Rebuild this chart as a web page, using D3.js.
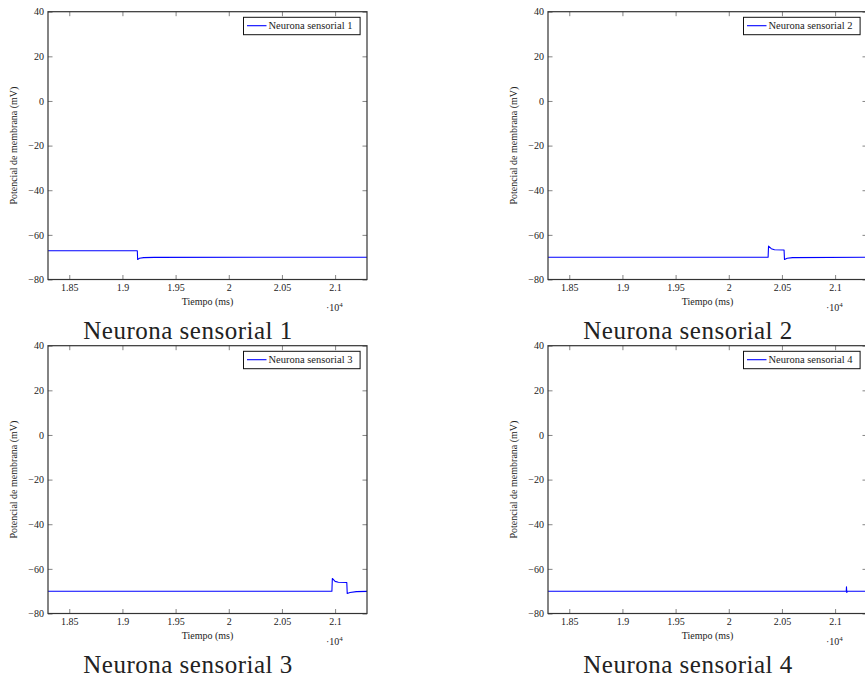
<!DOCTYPE html>
<html>
<head>
<meta charset="utf-8">
<script src="https://cdn.jsdelivr.net/npm/d3@7"></script>
<style>
  html, body { margin: 0; padding: 0; background: #fff; }
  svg { display: block; }
  text { font-family: "Liberation Serif", "Times New Roman", serif; fill: #222; }
</style>
</head>
<body>
<svg id="chart" width="865" height="679"></svg>
<script>
// Time window (ms) and tick values
const timeDomain = [18300, 21300];
const timeTicks = [18500, 19000, 19500, 20000, 20500, 21000];
const voltDomain = [-80, 40];
const voltTicks = [-80, -60, -40, -20, 0, 20, 40];

// Membrane potential traces, [time (ms), potential (mV)]
const sensorial1 = [
  [18300, -67.1], [19140, -67.1], [19143, -71.0], [19160, -70.5],
  [19200, -70.2], [19300, -70.1], [21300, -70.0]
];
const sensorial2 = [
  [18300, -70.0], [20370, -70.0], [20374, -65.0], [20400, -66.2],
  [20430, -66.7], [20520, -66.8], [20524, -71.0], [20550, -70.5],
  [20600, -70.2], [21300, -70.0]
];
const sensorial3 = [
  [18300, -70.0], [20970, -70.0], [20974, -64.3], [21000, -65.6],
  [21030, -66.0], [21110, -66.1], [21114, -71.0], [21140, -70.6],
  [21200, -70.2], [21300, -70.1]
];
const sensorial4 = [
  [18300, -70.0], [21105, -70.0], [21107, -68.0], [21110, -70.6],
  [21114, -70.0], [21300, -70.0]
];

const panels = [
  { name: "Neurona sensorial 1", data: sensorial1, ox: 0,   oy: 0 },
  { name: "Neurona sensorial 2", data: sensorial2, ox: 500, oy: 0 },
  { name: "Neurona sensorial 3", data: sensorial3, ox: 0,   oy: 334 },
  { name: "Neurona sensorial 4", data: sensorial4, ox: 500, oy: 334 }
];

const svg = d3.select("#chart");
const plot = { left: 48, top: 11.7, width: 319, height: 267.8 };

function drawPanel(p) {
  const g = svg.append("g").attr("transform", `translate(${p.ox},${p.oy})`);

  const x = d3.scaleLinear().domain(timeDomain)
    .range([plot.left, plot.left + plot.width]);
  const y = d3.scaleLinear().domain(voltDomain)
    .range([plot.top + plot.height, plot.top]);

  const fmtX = d => String(+(d / 1e4).toFixed(2));
  const tick = 4.5;

  // bottom axis with labels, ticks pointing inward
  const gb = g.append("g")
    .attr("transform", `translate(0,${plot.top + plot.height})`)
    .call(d3.axisBottom(x).tickValues(timeTicks).tickFormat(fmtX)
      .tickSizeInner(-tick).tickSizeOuter(0).tickPadding(4.6));
  // left axis with labels
  const gl = g.append("g")
    .attr("transform", `translate(${plot.left},0)`)
    .call(d3.axisLeft(y).tickValues(voltTicks)
      .tickSizeInner(-tick).tickSizeOuter(0).tickPadding(4));
  // top and right: ticks only
  const gt = g.append("g")
    .attr("transform", `translate(0,${plot.top})`)
    .call(d3.axisTop(x).tickValues(timeTicks).tickFormat("")
      .tickSizeInner(-tick).tickSizeOuter(0));
  const gr = g.append("g")
    .attr("transform", `translate(${plot.left + plot.width},0)`)
    .call(d3.axisRight(y).tickValues(voltTicks).tickFormat("")
      .tickSizeInner(-tick).tickSizeOuter(0));

  [gb, gl, gt, gr].forEach(a => {
    a.select(".domain").remove();
    a.selectAll(".tick line").attr("stroke", "#666").attr("stroke-width", 0.8);
    a.selectAll(".tick text")
      .style("font-family", '"Liberation Serif", serif')
      .style("font-size", "10px").attr("fill", "#222");
  });

  // clipped trace
  const clipId = "clip" + p.ox + "_" + p.oy;
  g.append("clipPath").attr("id", clipId).append("rect")
    .attr("x", plot.left).attr("y", plot.top)
    .attr("width", plot.width).attr("height", plot.height);

  const line = d3.line().x(d => x(d[0])).y(d => y(d[1]));
  g.append("path")
    .datum(p.data)
    .attr("clip-path", `url(#${clipId})`)
    .attr("fill", "none")
    .attr("stroke", "#0000ff")
    .attr("stroke-width", 1.1)
    .attr("stroke-linejoin", "round")
    .attr("d", line);

  // frame
  g.append("rect")
    .attr("x", plot.left).attr("y", plot.top)
    .attr("width", plot.width).attr("height", plot.height)
    .attr("fill", "none").attr("stroke", "#333").attr("stroke-width", 1.2);

  // legend
  const lg = g.append("g");
  const lx = plot.left + plot.width - 123.5, ly = plot.top + 5.6;
  lg.append("rect")
    .attr("x", lx).attr("y", ly).attr("width", 116.6).attr("height", 17.4)
    .attr("fill", "#fff").attr("stroke", "#111").attr("stroke-width", 1);
  lg.append("line")
    .attr("x1", lx + 3.5).attr("x2", lx + 23)
    .attr("y1", ly + 8.4).attr("y2", ly + 8.4)
    .attr("stroke", "#0000ff").attr("stroke-width", 1.1);
  lg.append("text")
    .attr("x", lx + 25).attr("y", ly + 12)
    .style("font-size", "10.5px")
    .text(p.name);

  // axis titles
  g.append("text")
    .attr("x", plot.left + plot.width / 2)
    .attr("y", plot.top + plot.height + 25.6)
    .attr("text-anchor", "middle")
    .style("font-size", "10px")
    .text("Tiempo (ms)");

  g.append("text")
    .attr("transform", `translate(17,${plot.top + plot.height / 2}) rotate(-90)`)
    .attr("text-anchor", "middle")
    .style("font-size", "10px")
    .text("Potencial de membrana (mV)");

  // scale multiplier of the time axis
  const mult = g.append("text")
    .attr("x", 326).attr("y", plot.top + plot.height + 31)
    .style("font-size", "10px");
  mult.append("tspan").text("·10");
  mult.append("tspan").attr("dy", -4).style("font-size", "7px").text("4");

  // subfigure caption
  g.append("text")
    .attr("x", 188).attr("y", 339)
    .attr("text-anchor", "middle")
    .style("font-size", "25px")
    .style("letter-spacing", "0.5px")
    .text(p.name);
}

panels.forEach(drawPanel);
</script>
</body>
</html>
